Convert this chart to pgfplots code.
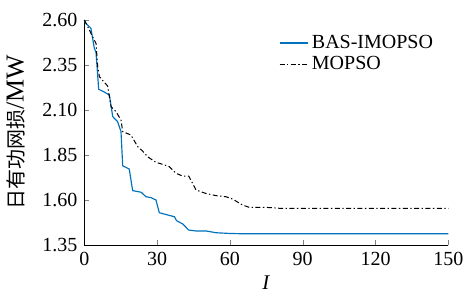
\documentclass[border=0pt]{standalone}
\usepackage{pgfplots}
\pgfplotsset{compat=1.18}
\usepackage{fontspec}
\setmainfont{Liberation Serif}
\newfontfamily\cjk{Noto Sans CJK SC}
\definecolor{mblue}{RGB}{0,114,189}
\begin{document}
\fontsize{12}{14}\selectfont
\begin{tikzpicture}
\begin{axis}[
  scale only axis,
  width=218.4pt, height=135pt,
  xmin=0, xmax=150, ymin=1.35, ymax=2.60,
  axis x line*=bottom, axis y line*=left,
  axis line style={line width=0.5pt, -},
  tick align=inside,
  major tick length=3pt,
  xtick={0,30,60,90,120,150},
  ytick={1.35,1.60,1.85,2.10,2.35,2.60},
  /pgf/number format/assume math mode=true,
  yticklabel style={/pgf/number format/fixed,/pgf/number format/fixed zerofill,/pgf/number format/precision=2},
  tick label style={font=\fontsize{12}{14}\selectfont},
  xlabel={\textit{I}},
  ylabel={{\cjk\fontsize{12}{14}\selectfont 日有功网损}{\fontsize{15.5}{18}\selectfont /MW}},
  label style={font=\fontsize{12.5}{14}\selectfont},
  xlabel style={yshift=2pt},
  ylabel style={yshift=2pt},
  legend style={draw=none, fill=none, at={(0.52,0.965)}, anchor=north west, font=\fontsize{12}{14}\selectfont, row sep=-1pt},
  legend cell align=left,
  clip=false,
]
\addplot[mblue, line width=0.7pt] coordinates {
(0,2.60) (0.4,2.585) (2.7,2.554) (4.1,2.443) (4.8,2.42) (5.9,2.215) (8.2,2.20)
(10.3,2.183) (11.7,2.063) (13.7,2.035) (15.1,1.98) (15.8,1.79) (18.5,1.772)
(19.9,1.652) (23.4,1.643) (25.4,1.618) (27.5,1.613) (29.5,1.60) (30.9,1.529)
(37.1,1.507) (38.0,1.485) (40.5,1.467) (43.0,1.433) (46,1.428) (50.1,1.428)
(54.3,1.418) (60,1.414) (66.6,1.412) (150,1.412)
};
\addlegendentry{BAS-IMOPSO}
\addplot[black, line width=0.6pt, dash pattern=on 3pt off 1.5pt on 0.8pt off 1.5pt] coordinates {
(0,2.60) (1.5,2.56) (3.4,2.507) (4.8,2.47) (5.5,2.34) (6.2,2.285) (9.6,2.233)
(11.0,2.118) (13.1,2.09) (15.1,2.044) (15.8,1.98) (19.2,1.961) (22.0,1.896)
(24.0,1.872) (26.1,1.84) (29.5,1.809) (32.3,1.798) (35.0,1.785) (37.8,1.748)
(40.5,1.733) (43.0,1.733) (46.0,1.656) (49.9,1.637) (54.3,1.624) (58.4,1.618)
(61.1,1.605) (65.2,1.572) (68.0,1.559) (75,1.559) (80.3,1.554) (150,1.554)
};
\addlegendentry{MOPSO}
\path (rel axis cs:0,1) -- ++(0pt,12pt);
\end{axis}
\end{tikzpicture}
\end{document}
